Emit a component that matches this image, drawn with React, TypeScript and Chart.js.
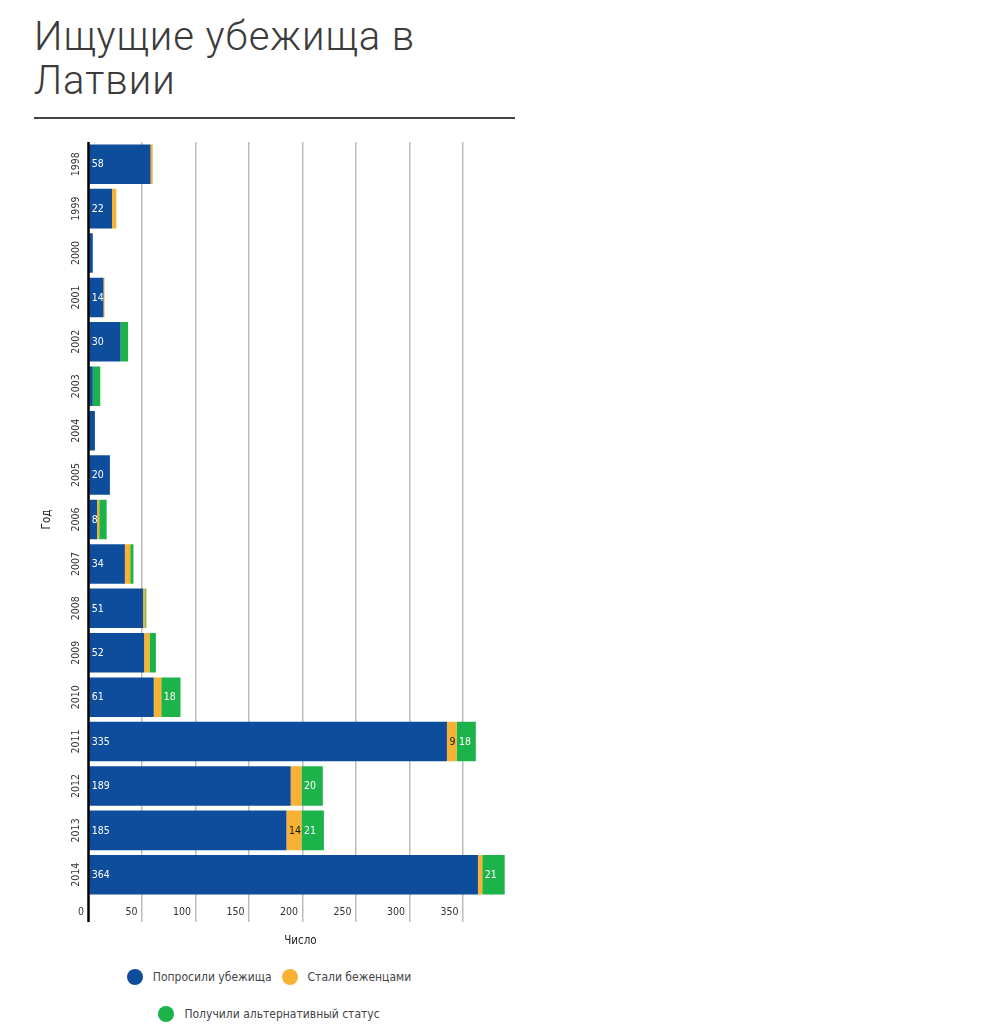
import React, { useEffect, useRef } from 'react';
import { Chart, registerables, Plugin } from 'chart.js';

Chart.register(...registerables);

// === Data ===
const YEARS = ['1998', '1999', '2000', '2001', '2002', '2003', '2004', '2005', '2006',
  '2007', '2008', '2009', '2010', '2011', '2012', '2013', '2014'];
const ASKED = [58, 22, 4, 14, 30, 4, 6, 20, 8, 34, 51, 52, 61, 335, 189, 185, 364];
const REFUGEES = [2, 4, 0, 1, 0, 0, 0, 0, 2, 5, 2, 5, 7, 9, 10, 14, 4];
const ALTERNATIVE = [0, 0, 0, 0, 7, 7, 0, 0, 7, 3, 1, 6, 18, 18, 20, 21, 21];
const X_TICK_STEP = 50;

const SERIES = [
  { label: 'Попросили убежища', data: ASKED, color: '#0e4d9b', text: '#ffffff' },
  { label: 'Стали беженцами', data: REFUGEES, color: '#f7b233', text: '#1a1a1a' },
  { label: 'Получили альтернативный статус', data: ALTERNATIVE, color: '#1db34b', text: '#ffffff' },
];

const FONT = '"DejaVu Sans Condensed", "DejaVu Sans", sans-serif';

// value labels at the start of each segment, when they fit
const segmentLabels: Plugin<'bar'> = {
  id: 'segmentLabels',
  afterDatasetsDraw(chart) {
    const { ctx } = chart;
    ctx.save();
    ctx.font = `10.5px ${FONT}`;
    ctx.textBaseline = 'middle';
    ctx.textAlign = 'left';
    chart.data.datasets.forEach((ds, i) => {
      const meta = chart.getDatasetMeta(i);
      meta.data.forEach((bar: any, j) => {
        const v = ds.data[j] as number;
        const { x, base, y } = bar.getProps(['x', 'base', 'y'], true);
        const w = x - base;
        const txt = String(v);
        if (v >= 8 && ctx.measureText(txt).width + 1.5 <= w) {
          ctx.fillStyle = SERIES[i].text;
          ctx.fillText(txt, base + 2.5, y + 0.5);
        }
      });
    });
    ctx.restore();
  },
};

// black zero line over the bars
const zeroLine: Plugin<'bar'> = {
  id: 'zeroLine',
  afterDatasetsDraw(chart) {
    const { ctx, chartArea } = chart;
    const x0 = chart.scales.x.getPixelForValue(0);
    ctx.save();
    ctx.strokeStyle = '#000';
    ctx.lineWidth = 2.5;
    ctx.beginPath();
    ctx.moveTo(x0, chartArea.top);
    ctx.lineTo(x0, chartArea.bottom + 25);
    ctx.stroke();
    ctx.restore();
  },
};

const AsylumChart: React.FC = () => {
  const canvasRef = useRef<HTMLCanvasElement>(null);

  useEffect(() => {
    if (!canvasRef.current) return;
    const chart = new Chart(canvasRef.current, {
      type: 'bar',
      data: {
        labels: YEARS,
        datasets: SERIES.map(s => ({
          label: s.label,
          data: s.data,
          backgroundColor: s.color,
          borderWidth: 0,
          barPercentage: 0.89,
          categoryPercentage: 1,
        })),
      },
      options: {
        indexAxis: 'y',
        animation: false,
        responsive: false,
        maintainAspectRatio: false,
        layout: { padding: { top: 17, right: 1.8, left: 0, bottom: 0 } },
        plugins: { legend: { display: false }, tooltip: { enabled: false } },
        scales: {
          x: {
            stacked: true,
            min: 0,
            max: 396,
            border: { display: false },
            grid: {
              color: (c: any) => (c.tick && c.tick.value === 0 ? 'rgba(0,0,0,0)' : '#bdbdbd'),
              lineWidth: 1.5,
              drawTicks: true,
              tickLength: 25,
            },
            ticks: {
              stepSize: X_TICK_STEP,
              includeBounds: false,
              align: 'end',
              labelOffset: -4.5,
              padding: -16,
              color: '#333',
              font: { family: FONT, size: 10.5 },
            },
            title: {
              display: true,
              text: 'Число',
              color: '#222',
              font: { family: FONT, size: 11.5 },
              padding: { top: 4, bottom: 4 },
            },
            afterFit: (s: any) => { s.height = 55; },
          },
          y: {
            stacked: true,
            grid: { display: false, drawTicks: false },
            border: { display: false },
            ticks: {
              minRotation: 90,
              maxRotation: 90,
              crossAlign: 'center',
              padding: 0,
              color: '#333',
              font: { family: FONT, size: 10.5 },
            },
            title: {
              display: true,
              text: 'Год',
              color: '#222',
              font: { family: FONT, size: 11.5 },
              padding: { top: 6, bottom: 0 },
            },
            afterFit: (s: any) => { s.width = 54.5; },
          },
        },
      },
      plugins: [segmentLabels, zeroLine],
    });
    return () => chart.destroy();
  }, []);

  return <canvas ref={canvasRef} width={480} height={827} />;
};

const LegendItem: React.FC<{ label: string; color: string }> = ({ label, color }) => (
  <div style={{ display: 'flex', alignItems: 'center', height: 20 }}>
    <div style={{ width: 16, height: 16, borderRadius: '50%', background: color, marginRight: 10 }} />
    <span>{label}</span>
  </div>
);

export default function App() {
  return (
    <div style={{ position: 'relative', width: 980, height: 1020 }}>
      <div
        style={{
          position: 'absolute', left: 26, top: 7, fontFamily: 'Roboto, sans-serif',
          fontWeight: 300, fontSize: 40, lineHeight: '44px', letterSpacing: 1,
          color: '#3b3b3b', whiteSpace: 'nowrap',
        }}
      >
        Ищущие убежища в<br />Латвии
      </div>
      <div style={{ position: 'absolute', left: 25.5, top: 109.3, width: 481, height: 2, background: '#444' }} />
      <div style={{ position: 'absolute', left: 26, top: 117 }}>
        <AsylumChart />
      </div>
      <div
        style={{
          position: 'absolute', left: 26, top: 959, width: 470, display: 'flex', flexWrap: 'wrap',
          justifyContent: 'center', columnGap: 10, rowGap: 17, fontFamily: FONT, fontSize: 12, color: '#444',
        }}
      >
        {SERIES.map(s => <LegendItem key={s.label} label={s.label} color={s.color} />)}
      </div>
    </div>
  );
}
